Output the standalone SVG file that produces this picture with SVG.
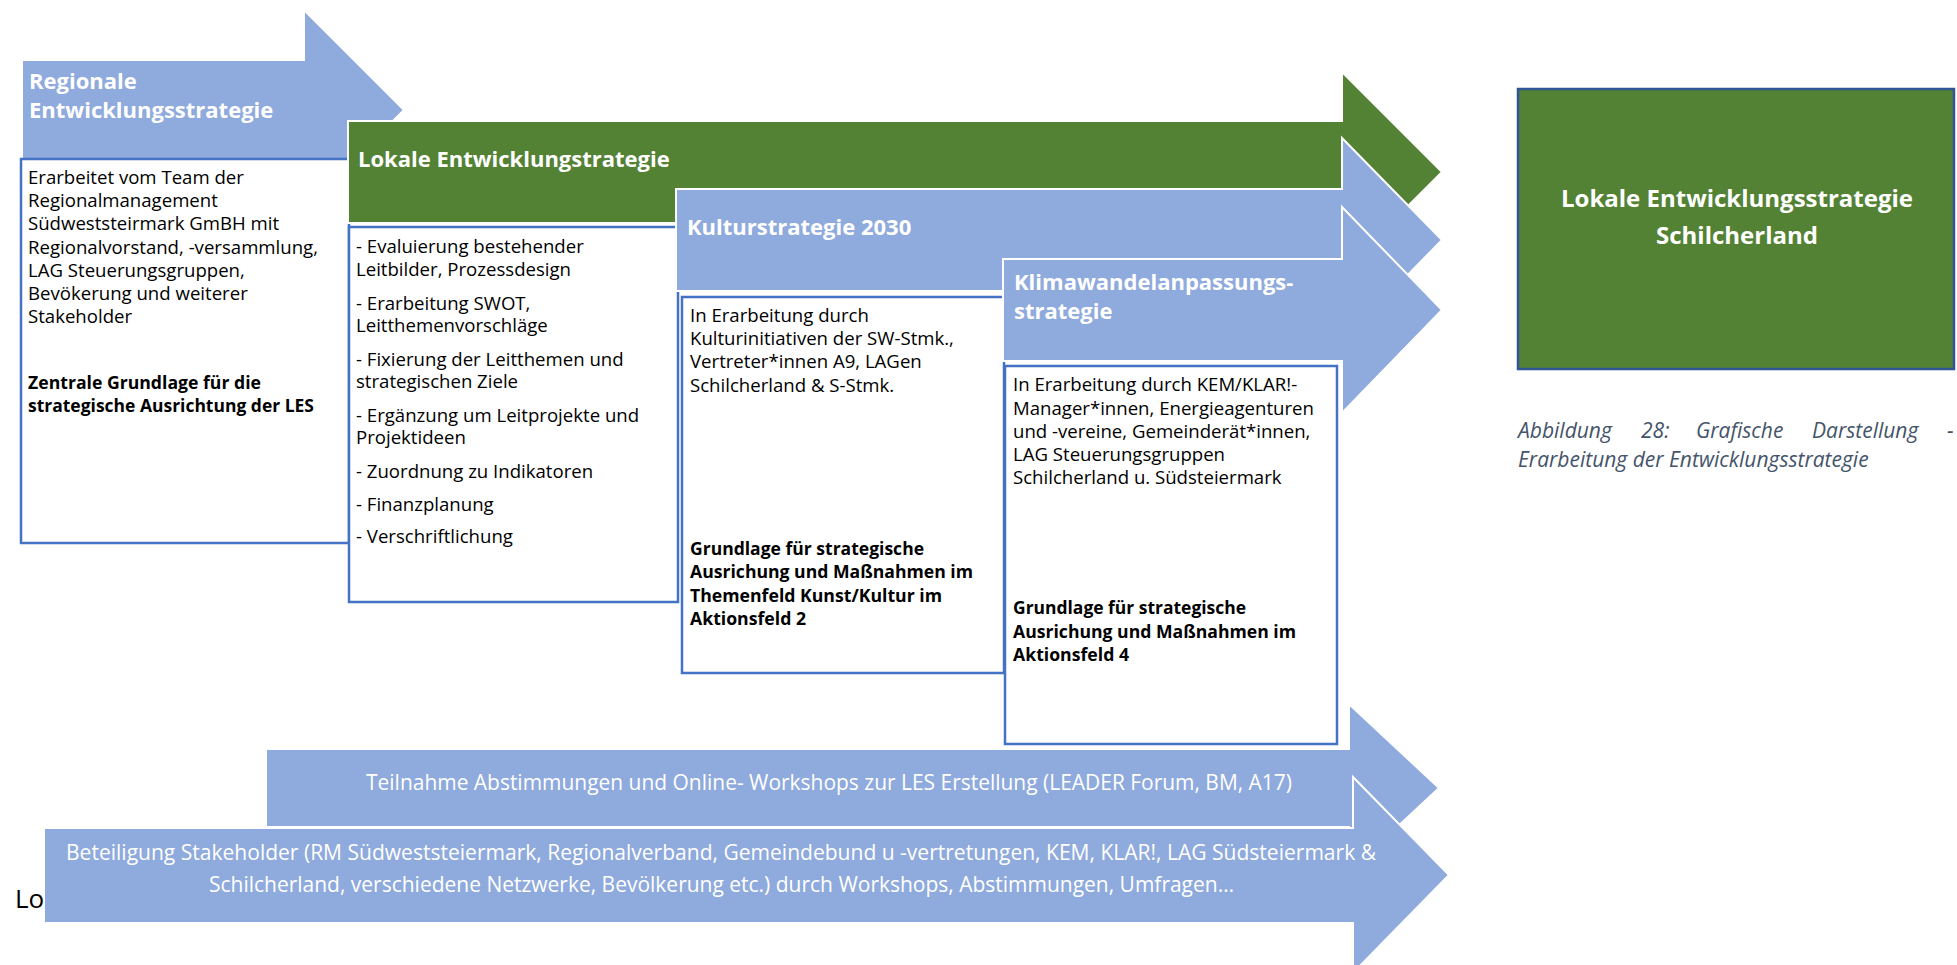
<svg xmlns="http://www.w3.org/2000/svg" width="1957" height="965" viewBox="0 0 1957 965">
  <style>
    .arrow-blue { fill: #8FAADC; stroke: #FFFFFF; stroke-width: 2; }
    .arrow-green { fill: #548235; stroke: #FFFFFF; stroke-width: 2; }
    .box { fill: #FFFFFF; stroke: #4472C4; stroke-width: 2.5; }
    .title { font-family: "Open Sans", "Noto Sans", sans-serif; font-weight: bold; font-size: 22px; fill: #FFFFFF; }
    .body { font-family: "Open Sans", "Noto Sans", sans-serif; font-size: 18.6px; fill: #000000; }
    .strong { font-weight: bold; }
    .band { font-family: "Open Sans", "Noto Sans", sans-serif; font-size: 21px; fill: #FFFFFF; }
    .goal { font-family: "Open Sans", "Noto Sans", sans-serif; font-weight: bold; font-size: 24px; fill: #FFFFFF; text-anchor: middle; }
    .caption { font-family: "Open Sans", "Noto Sans", sans-serif; font-style: italic; font-size: 21px; fill: #44546A; }
  </style>

  <!-- Regional development strategy -->
  <g id="regionale">
    <path class="arrow-blue" d="M22,60 H304 V10 L404,110 L304,210 V160 H22 Z"/>
    <text class="title" x="29" y="89">Regionale</text>
    <text class="title" x="29" y="118">Entwicklungsstrategie</text>
  </g>
  <g id="regionale-text">
    <rect class="box" x="21" y="159" width="328" height="384"/>
    <text class="body" x="28" y="184">Erarbeitet vom Team der</text>
    <text class="body" x="28" y="207">Regionalmanagement</text>
    <text class="body" x="28" y="230">Südweststeirmark GmBH mit</text>
    <text class="body" x="28" y="254">Regionalvorstand, -versammlung,</text>
    <text class="body" x="28" y="277">LAG Steuerungsgruppen,</text>
    <text class="body" x="28" y="300">Bevökerung und weiterer</text>
    <text class="body" x="28" y="323">Stakeholder</text>
    <text class="body strong" x="28" y="389" textLength="233" lengthAdjust="spacingAndGlyphs">Zentrale Grundlage für die</text>
    <text class="body strong" x="28" y="412" textLength="286" lengthAdjust="spacingAndGlyphs">strategische Ausrichtung der LES</text>
  </g>

  <!-- Local development strategy -->
  <g id="lokale">
    <path class="arrow-green" d="M348,121 H1342 V72 L1442,172 L1342,272 V223 H348 Z"/>
    <text class="title" x="358" y="167">Lokale Entwicklungstrategie</text>
  </g>
  <g id="lokale-text">
    <rect class="box" x="349" y="227" width="329" height="375"/>
    <text class="body" x="356" y="253">- Evaluierung bestehender</text>
    <text class="body" x="356" y="276">Leitbilder, Prozessdesign</text>
    <text class="body" x="356" y="310">- Erarbeitung SWOT,</text>
    <text class="body" x="356" y="332">Leitthemenvorschläge</text>
    <text class="body" x="356" y="366">- Fixierung der Leitthemen und</text>
    <text class="body" x="356" y="388">strategischen Ziele</text>
    <text class="body" x="356" y="422">- Ergänzung um Leitprojekte und</text>
    <text class="body" x="356" y="444">Projektideen</text>
    <text class="body" x="356" y="478">- Zuordnung zu Indikatoren</text>
    <text class="body" x="356" y="511">- Finanzplanung</text>
    <text class="body" x="356" y="543">- Verschriftlichung</text>
  </g>

  <!-- Culture strategy -->
  <g id="kultur">
    <path class="arrow-blue" d="M676,189 H1342 V138 L1442,240 L1342,342 V291 H676 Z"/>
    <text class="title" x="687" y="235">Kulturstrategie 2030</text>
  </g>
  <g id="kultur-text">
    <rect class="box" x="682" y="297" width="322" height="376"/>
    <text class="body" x="690" y="322">In Erarbeitung durch</text>
    <text class="body" x="690" y="345">Kulturinitiativen der SW-Stmk.,</text>
    <text class="body" x="690" y="368">Vertreter*innen A9, LAGen</text>
    <text class="body" x="690" y="392">Schilcherland &amp; S-Stmk.</text>
    <text class="body strong" x="690" y="555" textLength="234" lengthAdjust="spacingAndGlyphs">Grundlage für strategische</text>
    <text class="body strong" x="690" y="578" textLength="283" lengthAdjust="spacingAndGlyphs">Ausrichung und Maßnahmen im</text>
    <text class="body strong" x="690" y="602" textLength="252" lengthAdjust="spacingAndGlyphs">Themenfeld Kunst/Kultur im</text>
    <text class="body strong" x="690" y="625" textLength="116" lengthAdjust="spacingAndGlyphs">Aktionsfeld 2</text>
  </g>

  <!-- Climate adaptation strategy -->
  <g id="klima">
    <path class="arrow-blue" d="M1003,259 H1342 V207 L1442,310 L1342,413 V361 H1003 Z"/>
    <text class="title" x="1014" y="290">Klimawandelanpassungs-</text>
    <text class="title" x="1014" y="319">strategie</text>
  </g>
  <g id="klima-text">
    <rect class="box" x="1005" y="366" width="332" height="378"/>
    <text class="body" x="1013" y="391">In Erarbeitung durch KEM/KLAR!-</text>
    <text class="body" x="1013" y="415">Manager*innen, Energieagenturen</text>
    <text class="body" x="1013" y="438">und -vereine, Gemeinderät*innen,</text>
    <text class="body" x="1013" y="461">LAG Steuerungsgruppen</text>
    <text class="body" x="1013" y="484">Schilcherland u. Südsteiermark</text>
    <text class="body strong" x="1013" y="614" textLength="233" lengthAdjust="spacingAndGlyphs">Grundlage für strategische</text>
    <text class="body strong" x="1013" y="638" textLength="283" lengthAdjust="spacingAndGlyphs">Ausrichung und Maßnahmen im</text>
    <text class="body strong" x="1013" y="661" textLength="116" lengthAdjust="spacingAndGlyphs">Aktionsfeld 4</text>
  </g>

  <!-- Participation bands -->
  <g id="teilnahme">
    <path class="arrow-blue" d="M266,749 H1349 V704 L1439,788 L1349,872 V827 H266 Z"/>
    <text class="band" x="366" y="790" textLength="926" lengthAdjust="spacingAndGlyphs">Teilnahme Abstimmungen und Online- Workshops zur LES Erstellung (LEADER Forum, BM, A17)</text>
  </g>
  <g id="beteiligung">
    <path class="arrow-blue" d="M44,828 H1353 V777 L1449,875 L1353,973 V923 H44 Z"/>
    <text class="band" x="66" y="860" textLength="1310" lengthAdjust="spacingAndGlyphs">Beteiligung Stakeholder (RM Südweststeiermark, Regionalverband, Gemeindebund u -vertretungen, KEM, KLAR!, LAG Südsteiermark &amp;</text>
    <text class="band" x="209" y="892" textLength="1025" lengthAdjust="spacingAndGlyphs">Schilcherland, verschiedene Netzwerke, Bevölkerung etc.) durch Workshops, Abstimmungen, Umfragen…</text>
  </g>

  <text x="15" y="908" font-family="'Open Sans', 'Noto Sans', sans-serif" font-size="26" fill="#000000">Lo</text>

  <!-- Target: local development strategy -->
  <g id="ziel">
    <rect x="1518" y="89" width="436" height="280" fill="#548235" stroke="#2F5597" stroke-width="2.5"/>
    <text class="goal" x="1737" y="207">Lokale Entwicklungsstrategie</text>
    <text class="goal" x="1737" y="244">Schilcherland</text>
  </g>

  <g id="caption">
    <text class="caption" x="1518" y="438">Abbildung</text>
    <text class="caption" x="1641" y="438">28:</text>
    <text class="caption" x="1696" y="438">Grafische</text>
    <text class="caption" x="1812" y="438">Darstellung</text>
    <text class="caption" x="1947" y="438">-</text>
    <text class="caption" x="1518" y="467">Erarbeitung der Entwicklungsstrategie</text>
  </g>
</svg>
